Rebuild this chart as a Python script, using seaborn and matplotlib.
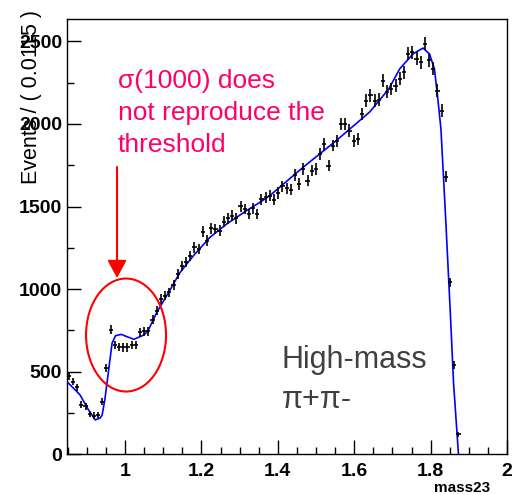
import numpy as np
import matplotlib
matplotlib.use("Agg")
import matplotlib.pyplot as plt
import seaborn as sns
from matplotlib.patches import Ellipse
from matplotlib.ticker import MultipleLocator

# ---- data ----
counts = [471, 440, 406, 300, 291, 245, 234, 237, 318, 522, 755, 660, 650, 647, 647,
          661, 661, 738, 744, 744, 814, 869, 940, 960, 980, 1024, 1091, 1137, 1166, 1202,
          1252, 1242, 1347, 1293, 1368, 1364, 1353, 1408, 1428, 1444, 1428, 1501, 1485, 1455,
          1489, 1455, 1545, 1556, 1566, 1540, 1582, 1622, 1610, 1602, 1691, 1636, 1727, 1657,
          1717, 1727, 1818, 1879, 1747, 1869, 1899, 2000, 2000, 1960, 1899, 1909, 2061, 2141,
          2172, 2141, 2147, 2262, 2196, 2212, 2232, 2273, 2313, 2424, 2434, 2394, 2374, 2485,
          2384, 2333, 2202, 2081, 1681, 1040, 539, 121]
first_bin = 0.8526
bin_step = 0.01097

fit_x = [0.850, 0.865, 0.882, 0.904, 0.922, 0.935, 0.940, 0.947, 0.957, 0.966, 0.975,
         0.990, 1.005, 1.023, 1.049, 1.060, 1.083, 1.109, 1.144, 1.179, 1.222, 1.266,
         1.318, 1.353, 1.379, 1.466, 1.553, 1.640, 1.690, 1.719, 1.754, 1.780, 1.797,
         1.810, 1.818, 1.827, 1.834, 1.840, 1.852, 1.860, 1.869, 1.873]
fit_y = [435, 400, 360, 270, 208, 220, 238, 329, 510, 672, 718,
         726, 712, 696, 722, 747, 859, 960, 1101, 1202, 1313, 1394,
         1475, 1525, 1566, 1737, 1899, 2071, 2210, 2333, 2424, 2459, 2424,
         2333, 2172, 1970, 1667, 1400, 838, 434, 131, 0]

xticks = [1, 1.2, 1.4, 1.6, 1.8, 2]
xtick_labels = ["1", "1.2", "1.4", "1.6", "1.8", "2"]
yticks = [0, 500, 1000, 1500, 2000, 2500]

mass = first_bin + bin_step * np.arange(len(counts))
counts_arr = np.array(counts, dtype=float)
err = 0.6 * np.sqrt(counts_arr) + 10

sns.set_theme(style="ticks")
plt.rcParams['font.family'] = ['Liberation Sans', 'DejaVu Sans']

W, H = 512, 495
fig = plt.figure(figsize=(W / 100, H / 100), dpi=100)
fig.patch.set_facecolor('white')
ax = fig.add_axes([67 / W, 1 - 454.3 / H, 440 / W, 435.3 / H])
ax.set_facecolor('white')

sns.lineplot(x=fit_x, y=fit_y, ax=ax, color='#0000FF', lw=1.2, sort=False,
             estimator=None, zorder=3)
ax.errorbar(mass, counts_arr, yerr=err, xerr=0.0055, fmt='none', ecolor='black',
            elinewidth=1.2, capsize=0, zorder=4)

ax.set_xlim(0.848, 2.0)
ax.set_ylim(0, 2635)
ax.set_xticks(xticks)
ax.set_xticklabels(xtick_labels)
ax.set_yticks(yticks)
ax.set_yticklabels([str(v) for v in yticks])
ax.xaxis.set_minor_locator(MultipleLocator(0.05))
ax.yaxis.set_minor_locator(MultipleLocator(250))
ax.tick_params(axis='both', which='major', direction='in', length=10, width=1,
               color='black', labelsize=14, labelcolor='black', top=False, right=False)
ax.tick_params(axis='both', which='minor', direction='in', length=5, width=1,
               color='black', top=False, right=False)
ax.tick_params(axis='y', which='major', pad=3.5)
ax.tick_params(axis='x', which='major', pad=6)
for lab in ax.get_xticklabels() + ax.get_yticklabels():
    lab.set_fontweight('bold')
for s in ax.spines.values():
    s.set_visible(True)
    s.set_color('black')
    s.set_linewidth(1.0)
ax.set_xlabel('')
ax.set_ylabel('')

fig.text(490 / W, 1 - 481 / H, 'mass23', ha='right', va='top', fontsize=11,
         fontweight='bold', color='black')
fig.text(32 / W, 1 - 10 / H, 'Events / ( 0.0115 )', rotation=90, ha='center',
         va='top', fontsize=15.5, color='black')

pink = '#FF0066'
for txt, base in [("σ(1000) does", 88), ("not reproduce the", 120), ("threshold", 152)]:
    fig.text(118 / W, 1 - base / H, txt, ha='left', va='baseline', fontsize=19,
             color=pink)

fig.text(282 / W, 1 - 368 / H, 'High-mass', ha='left', va='baseline', fontsize=22,
         color='#404040')
fig.text(282 / W, 1 - 408 / H, 'π+π-', ha='left', va='baseline', fontsize=22,
         color='#404040')

ell = Ellipse((1.0026, 722), width=0.2094, height=684, fill=False, edgecolor='red',
              lw=1.5, zorder=5)
ax.add_patch(ell)
ax.annotate('', xy=(0.979, 1067), xytext=(0.979, 1739),
            arrowprops=dict(arrowstyle='-|>,head_length=0.54,head_width=0.29',
                            color='red', lw=1.5, mutation_scale=20,
                            shrinkA=0, shrinkB=0), zorder=5)

fig.savefig('out.png', dpi=100, facecolor='white')
